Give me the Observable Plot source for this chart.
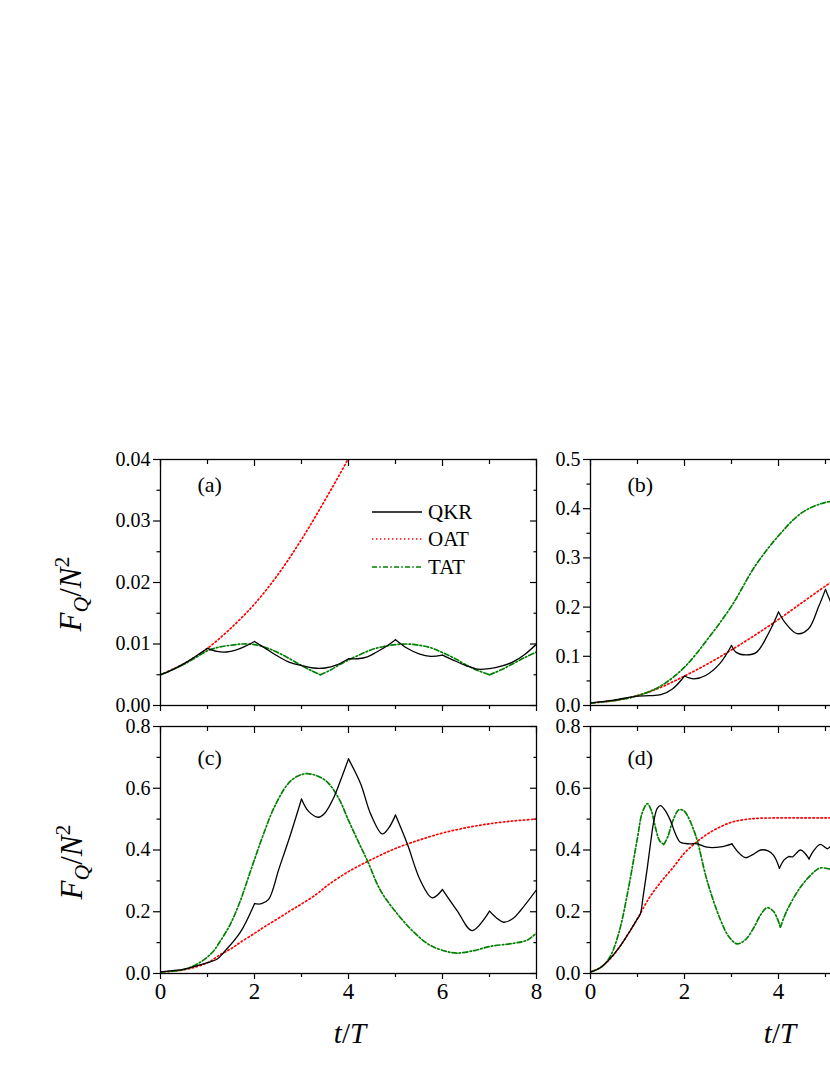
<!DOCTYPE html>
<html><head><meta charset="utf-8">
<script src="https://cdn.jsdelivr.net/npm/d3@7"></script>
<script src="https://cdn.jsdelivr.net/npm/@observablehq/plot@0.6"></script>
<style>
body{margin:0;background:#fff;}
#fig{position:relative;width:830px;height:1075px;overflow:hidden;background:#fff;}
.panel{position:absolute;}
#overlay{position:absolute;left:0;top:0;}
</style></head>
<body><div id="fig"></div>
<script>
// ---------- data ----------
const xMajor = [0, 2, 4, 6, 8];
const xMinor = [1, 3, 5, 7];
const xTickLabels = ["0", "2", "4", "6", "8"];

const aYMajor = [0, 0.01, 0.02, 0.03, 0.04];
const aYMinor = [0.005, 0.015, 0.025, 0.035];
const bYMajor = [0, 0.1, 0.2, 0.3, 0.4, 0.5];
const bYMinor = [0.05, 0.15, 0.25, 0.35, 0.45];
const cdYMajor = [0, 0.2, 0.4, 0.6, 0.8];
const cdYMinor = [0.1, 0.3, 0.5, 0.7];

const seriesNames = ["QKR", "OAT", "TAT"];
const panelLabels = ["(a)", "(b)", "(c)", "(d)"];

// panel (a)
const aT_QKR = [0,0.25,0.5,0.75,1,1.2,1.4,1.6,1.8,2,2.25,2.5,2.75,3,3.25,3.5,3.75,4,4.2,4.4,4.6,4.8,5,5.25,5.5,5.75,6,6.25,6.5,6.75,7,7.25,7.5,7.75,8];
const aQKR = [0.0050,0.0058,0.0068,0.0080,0.0093,0.0088,0.0087,0.0090,0.0096,0.0104,0.0092,0.0080,0.0070,0.0065,0.0061,0.0061,0.0066,0.0076,0.0076,0.0079,0.0087,0.0096,0.0107,0.0093,0.0084,0.0080,0.0082,0.0073,0.0065,0.0059,0.0060,0.0064,0.0071,0.0083,0.0100];
const aCusps_QKR = [1,2,4,5,6];
const aT_OAT = [0,0.5,1,1.5,2,2.5,3,3.5,4,4.5];
const aOAT = [0.0050,0.0068,0.0093,0.0126,0.0165,0.0213,0.0270,0.0334,0.0402,0.0475];
const aT_TAT = [0,0.25,0.5,0.75,1,1.25,1.5,1.75,2,2.25,2.5,2.75,3,3.2,3.4,3.6,3.8,4,4.25,4.5,4.75,5,5.25,5.5,5.75,6,6.25,6.5,6.75,7,7.25,7.5,7.75,8];
const aTAT = [0.0050,0.0058,0.0067,0.0078,0.0089,0.0095,0.0098,0.0100,0.0099,0.0094,0.0086,0.0076,0.0065,0.0057,0.0050,0.0057,0.0066,0.0074,0.0083,0.0091,0.0096,0.0099,0.0100,0.0098,0.0094,0.0086,0.0077,0.0066,0.0057,0.0050,0.0058,0.0068,0.0078,0.0087];
const aCusps_TAT = [3.4,7];

// panel (b)
const bT_QKR = [0,0.5,1,1.25,1.5,1.75,2,2.1,2.2,2.45,2.75,3,3.1,3.3,3.53,3.8,4,4.16,4.4,4.64,4.85,5,5.1,5.2];
const bQKR = [0.005,0.011,0.019,0.020,0.022,0.034,0.060,0.056,0.054,0.061,0.085,0.122,0.108,0.103,0.108,0.149,0.190,0.166,0.146,0.156,0.200,0.236,0.213,0.195];
const bCusps_QKR = [2,3,4,5];
const bT_OAT = [0,0.5,1,1.5,2,2.5,3,3.5,4,4.5,5,5.2];
const bOAT = [0.005,0.010,0.020,0.037,0.060,0.085,0.113,0.143,0.175,0.209,0.243,0.256];
const bT_TAT = [0,0.5,1,1.5,2,2.5,3,3.5,4,4.5,5,5.2];
const bTAT = [0.005,0.010,0.020,0.040,0.078,0.136,0.202,0.283,0.345,0.392,0.413,0.415];

// panel (c)
const cT_QKR = [0,0.5,0.8,1.0,1.2,1.35,1.7,2,2.15,2.3,2.52,2.77,3,3.15,3.36,3.5,3.69,3.83,4,4.26,4.47,4.72,4.85,5,5.25,5.53,5.78,6,6.31,6.63,7,7.15,7.3,7.5,7.66,8];
const cQKR = [0.005,0.014,0.026,0.035,0.046,0.069,0.134,0.226,0.226,0.240,0.339,0.452,0.565,0.525,0.506,0.520,0.571,0.625,0.695,0.614,0.517,0.452,0.470,0.513,0.420,0.301,0.245,0.272,0.204,0.139,0.202,0.180,0.166,0.178,0.204,0.271];
const cCusps_QKR = [2,3,4,5,6,7];
const cT_OAT = [0,0.5,1,1.28,1.5,1.7,2,2.2,2.5,2.77,3,3.33,3.55,4,4.5,5,5.5,6,6.5,7,7.5,8];
const cOAT = [0.005,0.012,0.035,0.062,0.080,0.101,0.130,0.150,0.178,0.204,0.225,0.258,0.285,0.330,0.370,0.405,0.432,0.455,0.472,0.485,0.494,0.500];
const cT_TAT = [0,0.5,0.85,1.1,1.28,1.49,1.7,1.84,1.99,2.2,2.41,2.7,2.9,3.09,3.3,3.55,3.8,4,4.2,4.4,4.68,5.04,5.39,5.74,6.1,6.31,6.67,7.02,7.52,7.8,8];
const cTAT = [0.005,0.013,0.037,0.068,0.107,0.161,0.236,0.298,0.365,0.455,0.535,0.612,0.638,0.647,0.642,0.620,0.565,0.496,0.430,0.366,0.269,0.193,0.134,0.091,0.071,0.066,0.074,0.088,0.098,0.108,0.131];

// panel (d)
const dT_QKR = [0,0.2,0.4,0.6,0.8,1.0,1.06,1.12,1.21,1.28,1.35,1.42,1.49,1.58,1.7,1.8,1.91,2.02,2.13,2.27,2.48,2.77,3.01,3.15,3.3,3.45,3.62,3.78,3.9,4.02,4.12,4.22,4.3,4.47,4.65,4.75,4.89,5.04,5.1,5.2];
const dQKR = [0.005,0.018,0.045,0.082,0.128,0.178,0.193,0.250,0.344,0.425,0.496,0.535,0.544,0.530,0.496,0.455,0.425,0.421,0.420,0.420,0.409,0.410,0.420,0.392,0.375,0.385,0.400,0.397,0.382,0.341,0.368,0.379,0.378,0.400,0.371,0.398,0.418,0.404,0.410,0.405];
const dCusps_QKR = [1.0,3.01,4.02,4.22,4.65];
const dT_OAT = [0,0.2,0.4,0.6,0.8,1.0,1.25,1.5,1.75,2.0,2.25,2.5,2.75,3.0,3.25,3.5,4.0,4.5,5.0,5.2];
const dOAT = [0.005,0.018,0.045,0.082,0.128,0.178,0.245,0.297,0.342,0.390,0.425,0.453,0.474,0.490,0.498,0.502,0.504,0.504,0.504,0.504];
const dT_TAT = [0,0.2,0.4,0.6,0.8,1.0,1.1,1.21,1.3,1.38,1.47,1.56,1.65,1.74,1.88,1.98,2.06,2.17,2.27,2.48,2.77,2.95,3.12,3.3,3.48,3.62,3.76,3.9,4.04,4.18,4.47,4.75,4.89,5.1,5.2];
const dTAT = [0.005,0.018,0.050,0.130,0.270,0.440,0.520,0.550,0.525,0.474,0.430,0.418,0.445,0.490,0.530,0.528,0.512,0.475,0.431,0.301,0.172,0.118,0.096,0.110,0.150,0.190,0.213,0.200,0.150,0.204,0.280,0.328,0.342,0.338,0.337];
const dCusps_TAT = [1.56,4.04];

// ---------- styles ----------
const FONT = "'Liberation Serif','Times New Roman',serif";
const STYLE = {
  QKR: {stroke: "#000000", strokeWidth: 1.3},
  OAT: {stroke: "#ff0000", strokeWidth: 1.7, strokeDasharray: "1.4,2.6"},
  TAT: {stroke: "#008000", strokeWidth: 1.7, strokeDasharray: "5,2.2,1.6,2.2"}
};

function rows(ts, vs, cusps = []) {
  const out = []; let seg = 0;
  ts.forEach((t, i) => {
    out.push({t, v: vs[i], seg});
    if (cusps.includes(t)) { seg++; out.push({t, v: vs[i], seg}); }
  });
  return out;
}

const panels = [
  {label: panelLabels[0], left: 160, top: 459, h: 246, yDomain: [0, 0.04], yMajor: aYMajor, yMinor: aYMinor, fmt: d3.format(".2f"), showX: false, labDy: 32,
   series: {QKR: rows(aT_QKR, aQKR, aCusps_QKR), OAT: rows(aT_OAT, aOAT), TAT: rows(aT_TAT, aTAT, aCusps_TAT)}},
  {label: panelLabels[1], left: 590, top: 459, h: 246, yDomain: [0, 0.5], yMajor: bYMajor, yMinor: bYMinor, fmt: d3.format(".1f"), showX: false, labDy: 32,
   series: {QKR: rows(bT_QKR, bQKR, bCusps_QKR), OAT: rows(bT_OAT, bOAT), TAT: rows(bT_TAT, bTAT)}},
  {label: panelLabels[2], left: 160, top: 726, h: 247, yDomain: [0, 0.8], yMajor: cdYMajor, yMinor: cdYMinor, fmt: d3.format(".1f"), showX: true, labDy: 38.5,
   series: {QKR: rows(cT_QKR, cQKR, cCusps_QKR), OAT: rows(cT_OAT, cOAT), TAT: rows(cT_TAT, cTAT)}},
  {label: panelLabels[3], left: 590, top: 726, h: 247, yDomain: [0, 0.8], yMajor: cdYMajor, yMinor: cdYMinor, fmt: d3.format(".1f"), showX: true, labDy: 38.5,
   series: {QKR: rows(dT_QKR, dQKR, dCusps_QKR), OAT: rows(dT_OAT, dOAT), TAT: rows(dT_TAT, dTAT, dCusps_TAT)}}
];

const fig = document.getElementById("fig");
const ML = 70, MR = 10, MT = 10, MB = 40, FW = 376, PAGE_W = 830;
const blank = () => "";

panels.forEach(p => {
  const ax = {strokeWidth: 1.2, label: null};
  // only label x ticks that fall inside the visible page
  const xFmt = d => (p.left + d / 8 * FW + 8 <= PAGE_W) ? xTickLabels[xMajor.indexOf(d)] : "";
  const marks = [
    Plot.axisY({...ax, ticks: p.yMajor, tickSize: 7, tickPadding: 3, tickFormat: p.fmt, fontSize: 20}),
    Plot.axisY({...ax, ticks: p.yMinor, tickSize: 3.5, tickFormat: blank}),
    Plot.axisY({...ax, anchor: "right", ticks: p.yMajor, tickSize: 7, dx: -7, tickFormat: blank}),
    Plot.axisY({...ax, anchor: "right", ticks: p.yMinor, tickSize: 3.5, dx: -3.5, tickFormat: blank}),
    Plot.axisX({...ax, anchor: "top", ticks: xMajor, tickSize: 6, dy: 6, tickFormat: blank}),
    Plot.axisX({...ax, anchor: "top", ticks: xMinor, tickSize: 4, dy: 4, tickFormat: blank}),
    Plot.axisX({...ax, anchor: "bottom", ticks: xMajor, tickSize: 6, tickPadding: 3,
      tickFormat: p.showX ? xFmt : blank, fontSize: 23}),
    Plot.axisX({...ax, anchor: "bottom", ticks: xMinor, tickSize: 4, tickFormat: blank})
  ];
  ["OAT", "TAT", "QKR"].forEach(name => {
    marks.push(Plot.line(p.series[name], {x: "t", y: "v", z: "seg", curve: "catmull-rom", clip: true, ...STYLE[name]}));
  });
  marks.push(Plot.frame({stroke: "black", strokeWidth: 1.3}));
  marks.push(Plot.text([p.label], {frameAnchor: "top-left", dx: 37, dy: p.labDy, textAnchor: "start", lineAnchor: "bottom", fontSize: 22, fill: "black"}));

  const chart = Plot.plot({
    width: ML + FW + MR, height: MT + p.h + MB,
    marginLeft: ML, marginRight: MR, marginTop: MT, marginBottom: MB,
    x: {domain: [0, 8]},
    y: {domain: p.yDomain},
    style: {fontFamily: FONT, fontSize: "20px", background: "transparent", color: "black", overflow: "visible"},
    marks
  });
  chart.classList.add("panel");
  chart.style.left = (p.left - ML) + "px";
  chart.style.top = (p.top - MT) + "px";
  fig.appendChild(chart);
});

// ---------- overlay: legend and axis titles ----------
const NS = "http://www.w3.org/2000/svg";
const ov = document.createElementNS(NS, "svg");
ov.setAttribute("id", "overlay");
ov.setAttribute("width", 830); ov.setAttribute("height", 1075);
ov.style.fontFamily = FONT;
fig.appendChild(ov);

function el(tag, attrs, parent = ov) {
  const e = document.createElementNS(NS, tag);
  for (const k in attrs) e.setAttribute(k, attrs[k]);
  parent.appendChild(e); return e;
}

// legend in panel (a)
const legendY = [512, 539, 567];
seriesNames.forEach((name, i) => {
  const s = STYLE[name];
  el("line", {x1: 372, x2: 422, y1: legendY[i], y2: legendY[i], stroke: s.stroke, "stroke-width": s.strokeWidth, "stroke-dasharray": s.strokeDasharray || "none"});
  const t = el("text", {x: 428, y: legendY[i] + 7, "font-size": 21, fill: "black"});
  t.textContent = name;
});

// y titles
function yTitle(x, y) {
  const t = el("text", {transform: `translate(${x},${y}) rotate(-90)`, "text-anchor": "middle", "font-size": 31, fill: "black"});
  const parts = [["F", "italic", null, 0], ["Q", "italic", "70%", 7], ["/", "normal", null, -7], ["N", "italic", null, 0], ["2", "normal", "70%", -12]];
  parts.forEach(([txt, st, fs, dy]) => {
    const sp = el("tspan", {"font-style": st, dy: dy}, t);
    if (fs) sp.setAttribute("font-size", fs);
    sp.textContent = txt;
  });
}
yTitle(81, 594);
yTitle(82, 862);

// x titles
function xTitle(x, y) {
  const t = el("text", {x, y, "text-anchor": "middle", "font-size": 29, fill: "black"});
  const a = el("tspan", {"font-style": "italic"}, t); a.textContent = "t";
  const b = el("tspan", {}, t); b.textContent = "/";
  const c = el("tspan", {"font-style": "italic"}, t); c.textContent = "T";
}
xTitle(350, 1043);
xTitle(780, 1043);
</script>
</body></html>
